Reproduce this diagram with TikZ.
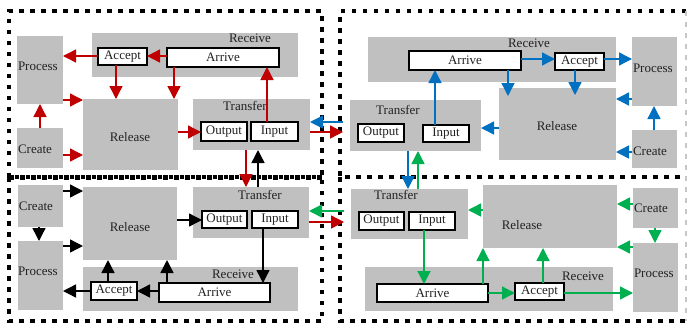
\documentclass[tikz,border=0pt]{standalone}
\usepackage{fontspec}
\setmainfont{Liberation Serif}
\usetikzlibrary{arrows.meta,calc}
\definecolor{cred}{HTML}{C00000}
\definecolor{cblue}{HTML}{0070C0}
\definecolor{cgreen}{HTML}{00B050}
\definecolor{cgray}{HTML}{C0C0C0}
\definecolor{ctext}{HTML}{222222}
\tikzset{
  gbox/.style={fill=cgray, draw=none, inner sep=0pt, outer sep=0pt},
  wbox/.style={fill=white, draw=black, line width=1.8pt, inner sep=0pt, outer sep=0pt, text=ctext, font=\fontsize{13}{15}\selectfont},
  txt/.style={inner sep=0pt, outer sep=0pt, text=ctext, font=\fontsize{13}{15}\selectfont},
  arr/.style={line width=1.4pt, -{Triangle[length=13pt,width=13pt]}},
  ra/.style={arr, draw=cred, fill=cred},
  ba/.style={arr, draw=cblue, fill=cblue},
  ga/.style={arr, draw=cgreen, fill=cgreen},
  ka/.style={arr, draw=black, fill=black},
  frame/.style={line width=4.5pt, dash pattern=on 4.5pt off 6.5pt},
  faint/.style={line width=2pt, draw=gray!45, dash pattern=on 4.5pt off 6.5pt},
}
\newcommand\gb[5]{\node[gbox, minimum width={#4-#2}, minimum height={#5-#3}] (#1) at ({(#2+#4)/2},{(#3+#5)/2}) {};}
\newcommand\wb[6]{\node[wbox, minimum width={#4-#2}, minimum height={#5-#3}] (#1) at ({(#2+#4)/2},{(#3+#5)/2}) {#6};}
\newcommand\ha[5]{\coordinate (#1) at (0,#2); \draw[#3] (#4 |- #1) -- (#5 |- #1);}
\newcommand\va[5]{\coordinate (#1) at (#2,0); \draw[#3] (#4 -| #1) -- (#5 -| #1);}
\begin{document}
\begin{tikzpicture}[x=1pt,y=-1pt]
\useasboundingbox (0,0) rectangle (688,327);
% frames
\draw[frame] (9,177) -- (9,11) -- (322,11) -- (322,177);
\draw[frame, dash phase=5.5pt] (9,177) -- (322,177);
\draw[frame] (9,177) -- (9,321) -- (322,321) -- (322,177);
\draw[frame] (9,177.5) -- (322,177.5);
\draw[frame] (686,11) -- (340,11) -- (340,177) -- (686,177);
\draw[frame] (340,177) -- (340,321) -- (686,321);
\draw[faint] (686,11) -- (686,321);

% ---------- top left ----------
\gb{tlP}{17}{36}{63}{104}
\gb{tlC}{17}{128}{63}{168}
\gb{tlR}{83}{99}{178}{170}
\gb{tlRc}{92}{33}{298}{77}
\gb{tlT}{193}{99}{310}{150}
\node[txt, anchor=mid west] (tlPt) at (18,68) {Process};
\node[txt, anchor=mid west] (tlCt) at (18,151) {Create};
\node[txt, anchor=mid] (tlRt) at (130,139) {Release};
\node[txt, anchor=mid] (tlRct) at (250,40) {Receive};
\node[txt, anchor=mid] (tlTt) at (245,108) {Transfer};
\wb{tlAc}{98}{48}{147}{65}{Accept}
\wb{tlAr}{167}{48}{279}{67}{Arrive}
\wb{tlO}{201}{122}{247}{141}{Output}
\wb{tlI}{251}{122}{298}{141}{Input}

% ---------- top right ----------
\gb{trRc}{368}{37}{616}{82}
\gb{trP}{632}{37}{677}{106}
\gb{trC}{632}{130}{677}{168}
\gb{trR}{499}{88}{616}{160}
\gb{trT}{350}{100}{481}{151}
\node[txt, anchor=mid west] (trPt) at (633,70) {Process};
\node[txt, anchor=mid west] (trCt) at (633,153) {Create};
\node[txt, anchor=mid] (trRt) at (557,128) {Release};
\node[txt, anchor=mid] (trRct) at (529,45) {Receive};
\node[txt, anchor=mid] (trTt) at (398,112) {Transfer};
\wb{trAr}{409}{51}{521}{70}{Arrive}
\wb{trAc}{555}{53}{604}{70}{Accept}
\wb{trO}{358}{124}{404}{142}{Output}
\wb{trI}{423}{125}{469}{142}{Input}

% ---------- bottom left ----------
\gb{blC}{18}{185}{63}{227}
\gb{blP}{18}{241}{63}{310}
\gb{blR}{83}{187}{177}{260}
\gb{blRc}{83}{267}{298}{311}
\gb{blT}{193}{187}{309}{238}
\node[txt, anchor=mid west] (blCt) at (19,208) {Create};
\node[txt, anchor=mid west] (blPt) at (18,273) {Process};
\node[txt, anchor=mid] (blRt) at (130,229) {Release};
\node[txt, anchor=mid] (blRct) at (233,276) {Receive};
\node[txt, anchor=mid] (blTt) at (260,197) {Transfer};
\wb{blAc}{91}{282}{137}{300}{Accept}
\wb{blAr}{159}{283}{270}{302}{Arrive}
\wb{blO}{202}{211}{247}{228}{Output}
\wb{blI}{252}{211}{298}{228}{Input}

% ---------- bottom right ----------
\gb{brT}{351}{189}{468}{239}
\gb{brR}{483}{185}{617}{248}
\gb{brRc}{365}{267}{613}{311}
\gb{brC}{633}{188}{678}{228}
\gb{brP}{633}{243}{678}{312}
\node[txt, anchor=mid west] (brCt) at (634,210) {Create};
\node[txt, anchor=mid west] (brPt) at (634,275) {Process};
\node[txt, anchor=mid] (brRt) at (522,227) {Release};
\node[txt, anchor=mid] (brRct) at (583,278) {Receive};
\node[txt, anchor=mid] (brTt) at (396,197) {Transfer};
\wb{brO}{359}{212}{404}{230}{Output}
\wb{brI}{409}{212}{455}{230}{Input}
\wb{brAr}{377}{284}{488}{302}{Arrive}
\wb{brAc}{515}{283}{564}{300}{Accept}

% ---------- arrows: top left (red) ----------
\ha{h1}{56}{ra}{tlAc.west}{tlP.east}
\ha{h2}{56}{ra}{tlAr.west}{tlAc.east}
\va{v1}{116}{ra}{tlAc.south}{tlR.north}
\va{v2}{174}{ra}{tlAr.south}{tlR.north}
\ha{h3}{100}{ra}{tlP.east}{tlR.west}
\va{v3}{40}{ra}{tlC.north}{tlP.south}
\ha{h4}{155}{ra}{tlC.east}{tlR.west}
\ha{h5}{132}{ra}{tlR.east}{tlO.west}
\va{v4}{267}{ra}{tlI.north}{tlAr.south}
\coordinate (h6) at (0,132);
\draw[ra, shorten >=7pt] (tlT.east |- h6) -- (trT.west |- h6);
\va{v5}{246}{ra}{tlT.south}{blT.north}

% ---------- arrows: top right (blue) ----------
\coordinate (h7) at (0,122);
\draw[ba, shorten <=7pt] (trT.west |- h7) -- (tlT.east |- h7);
\va{v6}{435}{ba}{trI.north}{trAr.south}
\ha{h8}{59}{ba}{trAr.east}{trAc.west}
\ha{h9}{59}{ba}{trAc.east}{trP.west}
\coordinate (v7) at (508,0);
\draw[ba, shorten >=-8pt] (trAr.south -| v7) -- (trR.north -| v7);
\coordinate (v8) at (575,0);
\draw[ba, shorten >=-7pt] (trAc.south -| v8) -- (trR.north -| v8);
\ha{h10}{128}{ba}{trR.west}{trT.east}
\ha{h11}{99}{ba}{trP.west}{trR.east}
\va{v9}{654}{ba}{trC.north}{trP.south}
\ha{h12}{152}{ba}{trC.west}{trR.east}
\va{v10}{408}{ba}{trT.south}{brT.north}

% ---------- arrows: bottom right (green) ----------
\va{v11}{418}{ga}{brT.north}{trT.south}
\coordinate (h13) at (0,211);
\draw[ga, shorten <=7pt] (brT.west |- h13) -- (blT.east |- h13);
\ha{h14}{210}{ga}{brR.west}{brT.east}
\va{v12}{424}{ga}{brI.south}{brAr.north}
\va{v13}{483}{ga}{brAr.north}{brR.south}
\ha{h15}{293}{ga}{brAr.east}{brAc.west}
\va{v14}{543}{ga}{brAc.north}{brR.south}
\ha{h16}{293}{ga}{brAc.east}{brP.west}
\ha{h17}{204}{ga}{brC.west}{brR.east}
\va{v15}{655}{ga}{brC.south}{brP.north}
\ha{h18}{247}{ga}{brP.west}{brR.east}

% ---------- arrows: bottom left (black) ----------
\ha{h19}{191}{ka}{blC.east}{blR.west}
\va{v16}{39}{ka}{blC.south}{blP.north}
\ha{h20}{246}{ka}{blP.east}{blR.west}
\ha{h21}{291}{ka}{blAc.west}{blP.east}
\ha{h22}{291}{ka}{blAr.west}{blAc.east}
\va{v17}{108}{ka}{blAc.north}{blR.south}
\va{v18}{167}{ka}{blAr.north}{blR.south}
\ha{h23}{220}{ka}{blR.east}{blO.west}
\va{v19}{263}{ka}{blI.south}{blAr.north}
\va{v20}{258}{ka}{blT.north}{tlT.south}
\coordinate (h24) at (0,222);
\draw[ra, shorten >=7pt] (blT.east |- h24) -- (brT.west |- h24);
\end{tikzpicture}
\end{document}
